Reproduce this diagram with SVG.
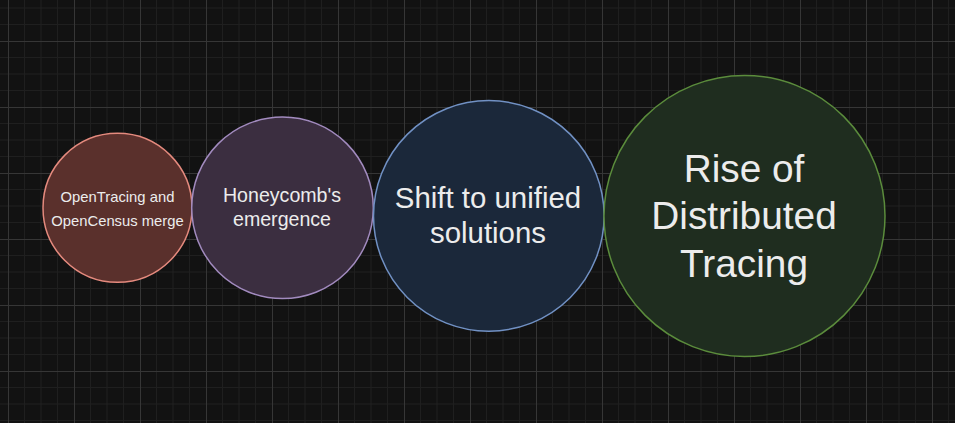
<svg xmlns="http://www.w3.org/2000/svg" width="955" height="423" viewBox="0 0 955 423">
  <defs>
    <pattern id="grid" x="8" y="41" width="66" height="66" patternUnits="userSpaceOnUse">
      <path d="M16.5 0V66M33 0V66M49.5 0V66M0 16.5H66M0 33H66M0 49.5H66" stroke="#1f1f1f" stroke-width="1" fill="none"/>
      <path d="M0.5 0V66M0 0.5H66" stroke="#363636" stroke-width="1" fill="none"/>
    </pattern>
    <style>
      .lbl { font-family: "Liberation Sans", Arial, sans-serif; fill: #ececec; text-anchor: middle; }
      .c { stroke-width: 1.5; }
    </style>
  </defs>
  <rect width="955" height="423" fill="#121212"/>
  <rect width="955" height="423" fill="url(#grid)"/>
  <g id="connectors"></g>
  <g id="node-opentracing">
    <circle class="c" cx="117.5" cy="207.8" r="74.5" fill="#5a302c" stroke="#e58a7e"/>
    <text class="lbl" font-size="14.8" x="117.5" y="202.3">OpenTracing and</text>
    <text class="lbl" font-size="14.8" x="117.5" y="226.3">OpenCensus merge</text>
  </g>
  <g id="node-honeycomb">
    <circle class="c" cx="282.5" cy="207.8" r="90.8" fill="#3b2e40" stroke="#a28bbf"/>
    <text class="lbl" font-size="19.6" x="282" y="201.7">Honeycomb's</text>
    <text class="lbl" font-size="19.6" x="282" y="225.7">emergence</text>
  </g>
  <g id="node-unified">
    <circle class="c" cx="488.8" cy="215.9" r="115.3" fill="#1b283a" stroke="#7191c4"/>
    <text class="lbl" font-size="29.4" x="488" y="207.7">Shift to unified</text>
    <text class="lbl" font-size="29.4" x="488" y="242.7">solutions</text>
  </g>
  <g id="node-distributed">
    <circle class="c" cx="744.5" cy="216" r="140.5" fill="#1f2d1f" stroke="#5b8c3c"/>
    <text class="lbl" font-size="38.8" x="744" y="181.7">Rise of</text>
    <text class="lbl" font-size="38.8" x="744" y="229.3">Distributed</text>
    <text class="lbl" font-size="38.8" x="744" y="276.7">Tracing</text>
  </g>
</svg>
